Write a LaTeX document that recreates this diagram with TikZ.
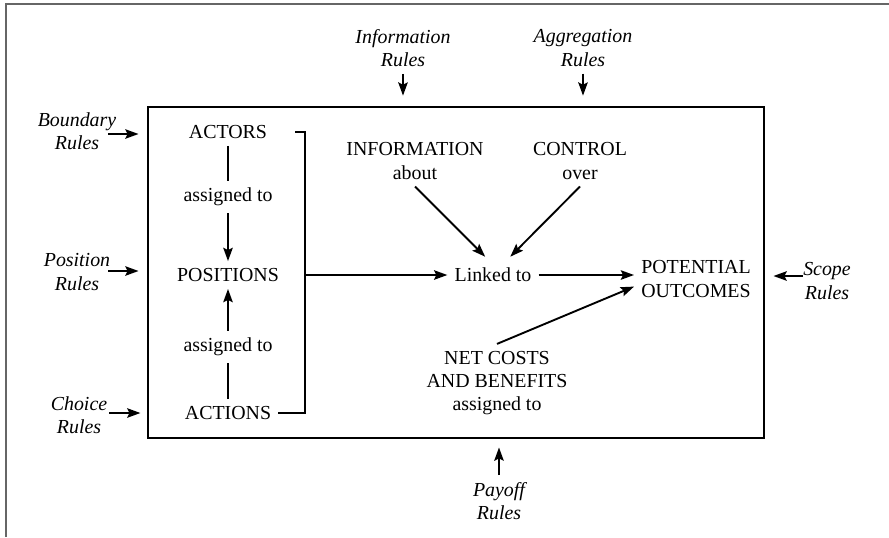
\documentclass[tikz,border=0pt]{standalone}
\usepackage{fontspec}
\setmainfont{Liberation Serif}
\usetikzlibrary{arrows.meta,positioning}

\begin{document}
\begin{tikzpicture}[x=0.01855cm,y=-0.01855cm,->,>={Stealth[length=7pt,width=5pt,inset=1.2pt]},
line width=1pt,
every node/.style={align=center,font=\fontsize{10.5}{12.2}\selectfont}]
\tikzstyle{rules}=[font=\itshape\fontsize{10.5}{12.2}\selectfont]
\tikzstyle{plain}=[-]

\useasboundingbox (0,0) rectangle (889,537);
\draw[plain,gray!80!black] (6,537) -- (6,4) -- (889,4);

% action arena
\coordinate (boxNW) at (148,107);
\coordinate (boxSE) at (764,438);
\draw[plain] (boxNW) rectangle (boxSE);

% rules around the arena
\node[rules] (boundary)    at (77,131)  {Boundary\\Rules};
\node[rules] (position)    at (77,272)  {Position\\Rules};
\node[rules] (choice)      at (79,415)  {Choice\\Rules};
\node[rules] (information) at (403,48)  {Information\\Rules};
\node[rules] (aggregation) at (583,48)  {Aggregation\\Rules};
\node[rules] (scope)       at (827,281) {Scope\\Rules};
\node[rules] (payoff)      at (499,501) {Payoff\\Rules};

\coordinate (boundaryIn) at (108,134);
\coordinate (positionIn) at (108,271);
\coordinate (choiceIn)   at (109,413);
\coordinate (scopeIn)    at (803,276);

% inside the arena
\node (actors)    at (228,132) {ACTORS};
\node (asg1)      at (228,197) {assigned to};
\node (positions) at (228,275) {POSITIONS};
\node (asg2)      at (228,347) {assigned to};
\node (actions)   at (228,413) {ACTIONS};
\coordinate (brk) at (305,275);

\node (info)     at (415,161) {INFORMATION\\about};
\node (control)  at (580,161) {CONTROL\\over};
\node (linked)   at (493,275) {Linked to};
\node (outcomes) at (696,279) {POTENTIAL\\OUTCOMES};
\node (netcost)  at (497,383) {NET COSTS\\AND BENEFITS\\assigned to};

\draw[shorten >=5pt] (boundaryIn) -- (boundaryIn -| boxNW);
\draw[shorten >=5pt] (positionIn) -- (positionIn -| boxNW);
\draw[shorten >=4pt] (choiceIn) -- (choiceIn -| boxNW);
\draw[shorten >=5pt] (scopeIn) -- (scopeIn -| boxSE);
\draw[shorten >=6pt] (information.south) -- (information.south |- boxNW);
\draw[shorten >=6pt] (aggregation.south) -- (aggregation.south |- boxNW);
\draw[shorten >=5pt] (payoff.north) -- (payoff.north |- boxSE);

\path (actors) edge[plain] (asg1)
      (asg1) edge (positions)
      (actions) edge[plain] (asg2)
      (asg2) edge (positions);

\draw[plain,shorten <=11pt] (actors.east) -| (brk) |- (actions.east);
\draw (brk) -- (linked);
\draw[shorten >=3pt] (info.south) -- ([xshift=-2pt]linked.north);
\draw[shorten >=3pt] (control.south) -- ([xshift=7pt]linked.north);
\draw (linked.east) -- (linked.east -| outcomes.west);
\draw (netcost.north) -- ([yshift=-4pt]outcomes.west);
\end{tikzpicture}
\end{document}
